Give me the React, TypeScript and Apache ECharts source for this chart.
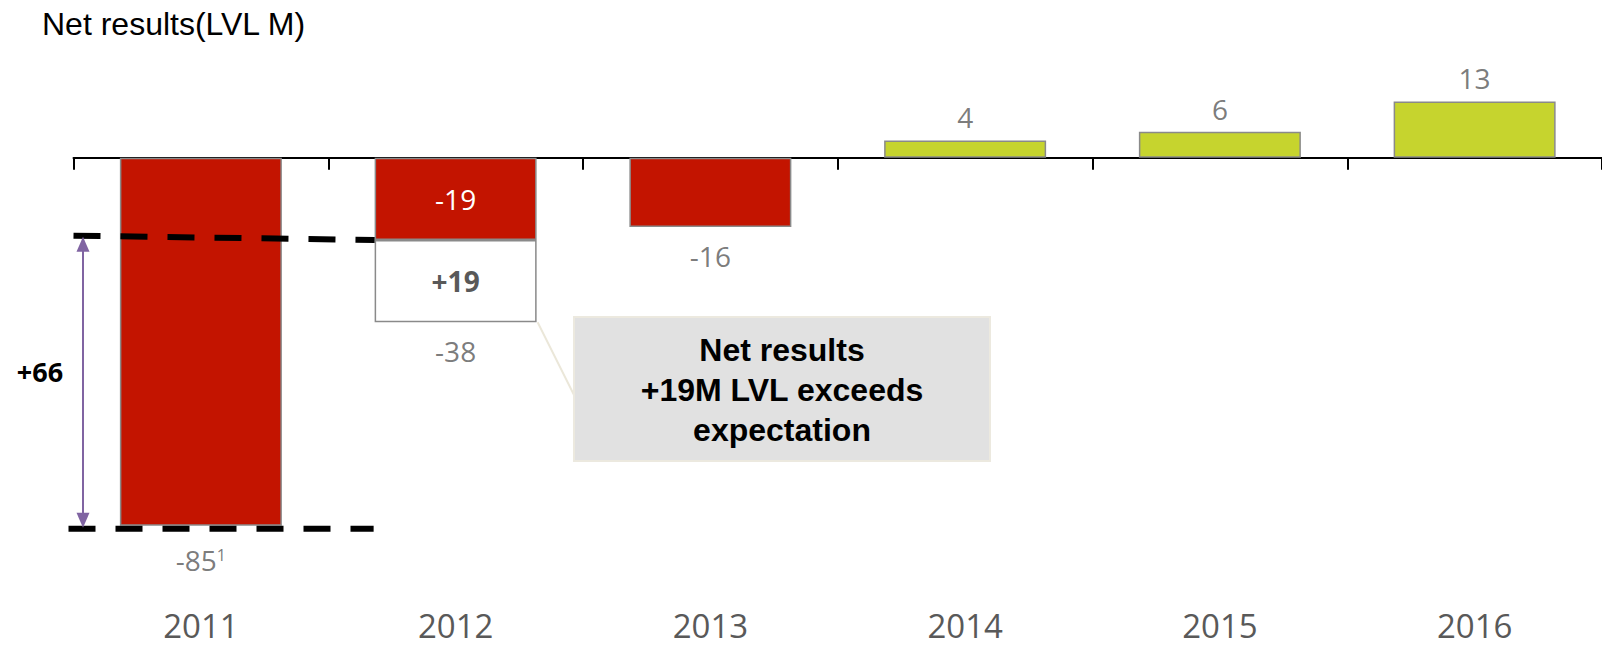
import React, { useEffect, useRef } from "react";
import * as echarts from "echarts";

const categories = ["2011", "2012", "2013", "2014", "2015", "2016"];
const netResults = [-85, -19, -16, 4, 6, 13];
const exceedGap = [null, -19, null, null, null, null];
const endValues = [-85, -38, -16, 4, 6, 13];
const gapLabel = "+19";
const deltaLabel = "+66";
const deltaTop = -18;
const deltaBottom = -85;
const titleText = "Net results(LVL M)";
const calloutLines = ["Net results", "+19M LVL exceeds", "expectation"];
const yMin = -100;
const yMax = 20;

const RED = "#c31400";
const GREEN = "#c6d42e";
const BORDER = "#8a8a8a";
const GRAY_TEXT = "#595959";
const PURPLE = "#8064a2";
const LABEL_FONT = "Open Sans";
const ARIAL = "Liberation Sans";

export default function App() {
  const ref = useRef<HTMLDivElement>(null);
  useEffect(() => {
    document.body.style.margin = "0";
    if (!ref.current) return;
    const chart = echarts.init(ref.current, undefined, { renderer: "svg" });
    const barWidth = 162;
    const option: any = {
      animation: false,
      title: {
        text: titleText,
        left: 37,
        top: 3,
        textStyle: { fontFamily: ARIAL, fontSize: 32, fontWeight: "normal", color: "#000" },
      },
      grid: { left: 73.5, top: 71.1, width: 1542, height: 519.6 },
      xAxis: [
        {
          type: "category",
          data: categories,
          position: "bottom",
          axisLine: { onZero: true, lineStyle: { color: "#000", width: 2 } },
          axisTick: { show: true, length: 12, lineStyle: { color: "#000", width: 2 } },
          axisLabel: { show: false },
          splitLine: { show: false },
        },
        {
          type: "category",
          data: categories,
          position: "bottom",
          axisLine: { show: false, onZero: false },
          axisTick: { show: false },
          axisLabel: { fontFamily: LABEL_FONT, fontSize: 33, lineHeight: 33, color: GRAY_TEXT, margin: 18 },
          splitLine: { show: false },
        },
      ],
      yAxis: { type: "value", min: yMin, max: yMax, show: false },
      series: [
        {
          name: "Net results",
          type: "bar",
          stack: "a",
          barWidth,
          data: netResults.map((v, i) => ({
            value: v,
            itemStyle: { color: v < 0 ? RED : GREEN },
            label:
              i === 1
                ? { show: true, position: "inside", color: "#fff", fontSize: 28, fontFamily: LABEL_FONT }
                : { show: false },
          })),
          itemStyle: { borderColor: BORDER, borderWidth: 1.5 },
        },
        {
          name: "Exceeds",
          type: "bar",
          stack: "a",
          barWidth,
          data: exceedGap,
          itemStyle: { color: "#fff", borderColor: BORDER, borderWidth: 1.5 },
          label: {
            show: true,
            position: "inside",
            formatter: gapLabel,
            color: GRAY_TEXT,
            fontWeight: "bold",
            fontSize: 28,
            fontFamily: LABEL_FONT,
          },
        },
        {
          name: "labels",
          type: "scatter",
          symbolSize: 0,
          silent: true,
          data: endValues.map((v, i) => ({
            value: v,
            label: {
              show: true,
              position: v < 0 ? "bottom" : "top",
              distance: i === 0 ? 20 : v < 0 ? 15 : 9,
              formatter: i === 0 ? "{v|" + v + "}{s|1}" : String(v),
              color: GRAY_TEXT,
              fontSize: 28,
              fontFamily: LABEL_FONT,
              rich: {
                v: { fontSize: 28, color: GRAY_TEXT, fontFamily: LABEL_FONT },
                s: { fontSize: 16, color: GRAY_TEXT, fontFamily: LABEL_FONT, padding: [0, 0, 10, 0] },
              },
            },
          })),
        },
      ],
    };
    chart.setOption(option);

    const px = (i: number, v: number) => chart.convertToPixel({ xAxisIndex: 0, yAxisIndex: 0 } as any, [i, v]) as number[];
    const band = px(1, 0)[0] - px(0, 0)[0];
    const x0 = px(0, 0)[0] - band / 2;
    const bar2012Left = px(1, 0)[0] - barWidth / 2;
    const bar2012Right = px(1, 0)[0] + barWidth / 2;
    const yTopL = px(0, deltaTop)[1];
    const yTopR = px(1, netResults[1])[1];
    const yBot = px(0, deltaBottom)[1] + 3;
    const yGapBottom = px(1, endValues[1])[1];
    const ax = x0 + 9.5;
    const tipTop = yTopL + 1;
    const tipBot = yBot - 1;
    const head = 15;
    const hw = 6.5;

    const box = { x: 574, y: 317, w: 416, h: 144 };

    chart.setOption({
      graphic: [
        {
          type: "line",
          z: 100,
          shape: { x1: x0, y1: yTopL, x2: bar2012Left, y2: yTopR },
          style: { stroke: "#000", lineWidth: 6, lineDash: [27, 20] },
        },
        {
          type: "line",
          z: 100,
          shape: { x1: x0 - 5, y1: yBot, x2: bar2012Left - 1, y2: yBot },
          style: { stroke: "#000", lineWidth: 6, lineDash: [27, 20] },
        },
        {
          type: "line",
          z: 101,
          shape: { x1: ax, y1: tipTop + head - 2, x2: ax, y2: tipBot - head + 2 },
          style: { stroke: PURPLE, lineWidth: 2 },
        },
        {
          type: "polygon",
          z: 101,
          shape: { points: [[ax, tipTop], [ax - hw, tipTop + head], [ax + hw, tipTop + head]] },
          style: { fill: PURPLE },
        },
        {
          type: "polygon",
          z: 101,
          shape: { points: [[ax, tipBot], [ax - hw, tipBot - head], [ax + hw, tipBot - head]] },
          style: { fill: PURPLE },
        },
        {
          type: "text",
          z: 101,
          x: 40,
          y: (tipTop + tipBot) / 2 - 11,
          style: {
            text: deltaLabel,
            fontFamily: LABEL_FONT,
            fontWeight: "bold",
            fontSize: 27,
            fill: "#000",
            align: "center",
            verticalAlign: "middle",
          },
        },
        {
          type: "line",
          z: 90,
          shape: { x1: bar2012Right + 1, y1: yGapBottom, x2: box.x + 1, y2: box.y + 80 },
          style: { stroke: "#ebe7d9", lineWidth: 2 },
        },
        {
          type: "rect",
          z: 91,
          shape: { x: box.x, y: box.y, width: box.w, height: box.h },
          style: { fill: "#e1e1e1", stroke: "#ece9df", lineWidth: 2 },
        },
        {
          type: "text",
          z: 92,
          x: box.x + box.w / 2,
          y: box.y + box.h / 2 + 1,
          style: {
            text: calloutLines.join("\n"),
            fontFamily: ARIAL,
            fontWeight: "bold",
            fontSize: 32,
            lineHeight: 40,
            fill: "#000",
            align: "center",
            verticalAlign: "middle",
          },
        },
      ],
    });

    return () => chart.dispose();
  }, []);
  return <div ref={ref} style={{ width: 1602, height: 648 }} />;
}
